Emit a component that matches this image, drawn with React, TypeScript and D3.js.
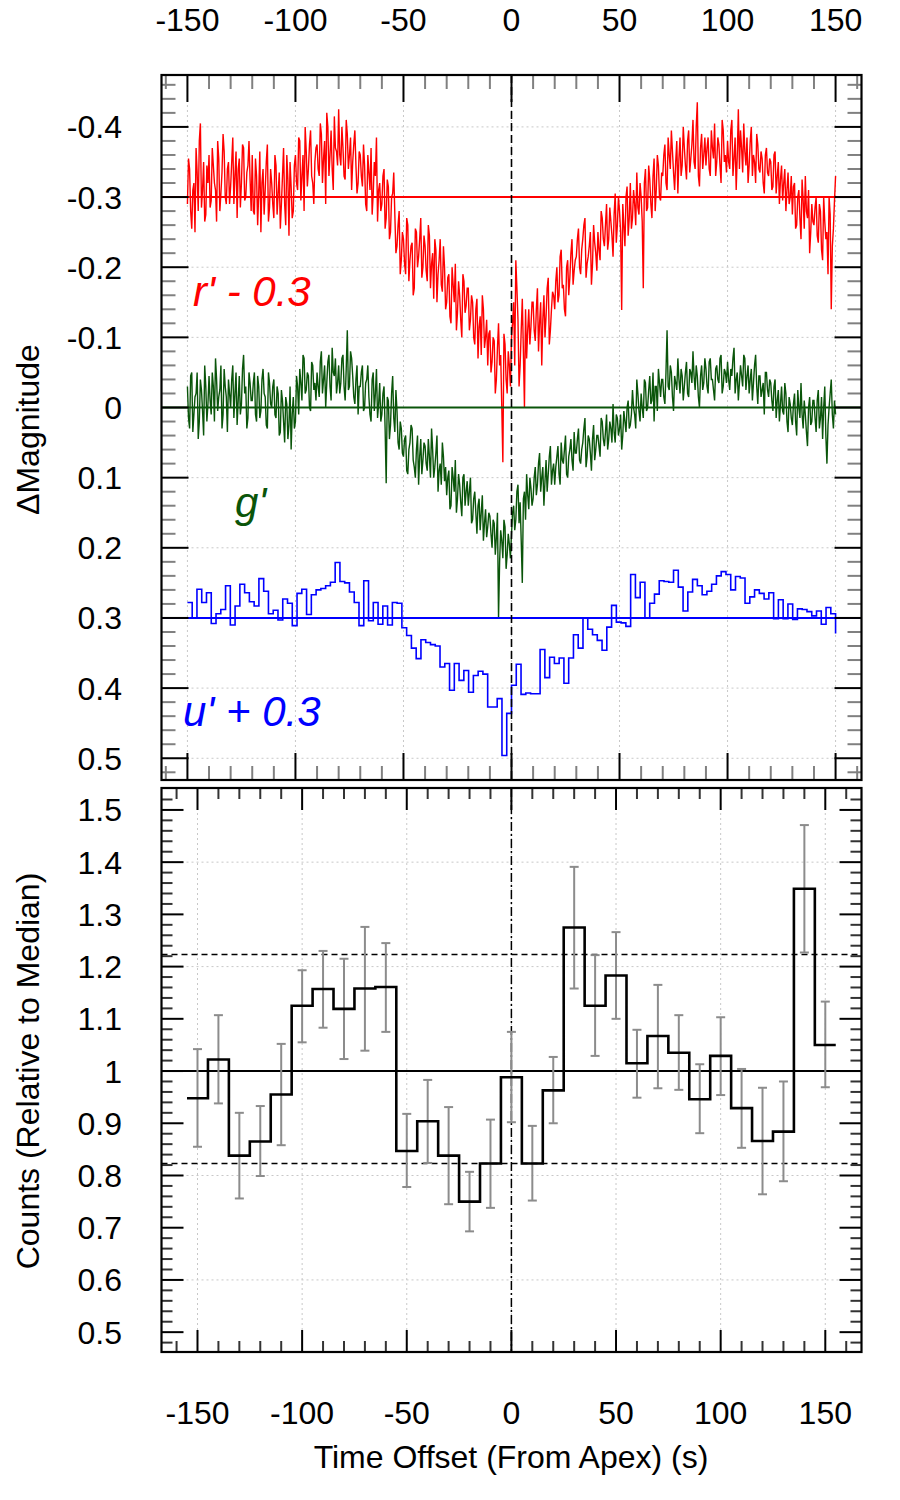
import React, { useRef, useEffect } from "react"
import * as d3 from "d3"

// Labelled ticks
const timeTicks = [-150, -100, -50, 0, 50, 100, 150]
const magTicks = [-0.4, -0.3, -0.2, -0.1, 0, 0.1, 0.2, 0.3, 0.4, 0.5]
const magLabels = ["-0.4", "-0.3", "-0.2", "-0.1", "0", "0.1", "0.2", "0.3", "0.4", "0.5"]
const countTicks = [0.5, 0.6, 0.7, 0.8, 0.9, 1.0, 1.1, 1.2, 1.3, 1.4, 1.5]
const countLabels = ["0.5", "0.6", "0.7", "0.8", "0.9", "1", "1.1", "1.2", "1.3", "1.4", "1.5"]

// r' light curve (plotted with -0.3 offset): samples on whole seconds from -150 s ...
const curveStart = -150
const rPrime = [
  0.010, -0.040, 0.045, -0.020, -0.070, 0.020, -0.105, -0.010, 0.035, -0.045,
  -0.060, 0.005, -0.045, -0.010, -0.080, 0.020, -0.035, -0.065, 0.010, -0.050,
  -0.015, -0.085, -0.030, 0.030, -0.055, -0.020, -0.070, 0.000, -0.045, -0.025,
  -0.060, 0.025, -0.030, -0.005, 0.050, -0.040, -0.010, -0.075, 0.015, -0.020,
  0.030, -0.045, -0.005, 0.045, -0.030, 0.010, -0.060, 0.055, -0.015, 0.020,
  -0.060, -0.010, -0.080, -0.030, 0.020, -0.065, -0.040, -0.095, -0.020, -0.050,
  -0.075, -0.030, -0.090, -0.055, 0.010, -0.100, -0.060, -0.040, -0.115, -0.065,
  -0.125, -0.045, -0.070, -0.025, -0.090, -0.060, -0.010, -0.075, -0.045, -0.020,
  -0.060, -0.015, -0.045, 0.020, -0.035, -0.070, -0.005, -0.030, 0.035, -0.020,
  0.010, -0.040, 0.030, -0.015, 0.050, -0.005, 0.025, 0.070, 0.020, 0.090,
  0.060, 0.110, 0.040, 0.090, 0.065, 0.130, 0.050, 0.085, 0.030, 0.100,
  0.070, 0.120, 0.055, 0.095, 0.145, 0.075, 0.110, 0.060, 0.135, 0.100,
  0.150, 0.110, 0.180, 0.125, 0.095, 0.165, 0.140, 0.200, 0.120, 0.155,
  0.130, 0.175, 0.150, 0.210, 0.145, 0.185, 0.225, 0.160, 0.200, 0.240,
  0.190, 0.235, 0.205, 0.260, 0.180, 0.225, 0.378, 0.210, 0.280, 0.240,
  0.200, 0.150, 0.090, 0.175, 0.240, 0.145, 0.300, 0.230, 0.160, 0.185,
  0.150, 0.205, 0.130, 0.180, 0.240, 0.140, 0.170, 0.115, 0.190, 0.135,
  0.160, 0.100, 0.140, 0.075, 0.125, 0.170, 0.090, 0.115, 0.060, 0.105,
  0.085, 0.045, 0.110, 0.060, 0.030, 0.095, 0.070, 0.125, 0.040, 0.080,
  0.050, 0.090, 0.030, 0.070, 0.010, 0.060, 0.035, 0.085, -0.005, 0.040,
  0.020, 0.161, 0.040, 0.000, 0.055, -0.020, 0.030, 0.010, -0.035, 0.025,
  0.000, 0.130, -0.040, 0.015, -0.025, 0.030, -0.055, -0.010, -0.045, 0.005,
  -0.030, -0.075, -0.010, -0.060, -0.095, -0.035, -0.050, -0.005, -0.085, -0.045,
  -0.070, -0.025, -0.095, -0.055, -0.110, -0.040, -0.135, -0.015, -0.090, -0.060,
  -0.045, -0.085, -0.030, -0.070, -0.105, -0.050, -0.075, -0.020, -0.095, -0.060,
  -0.080, -0.040, -0.110, -0.055, -0.010, -0.125, -0.095, -0.035, -0.065, -0.085,
  -0.045, -0.100, -0.060, -0.020, -0.075, -0.035, -0.055, -0.005, -0.070, -0.030,
  -0.050, -0.015, -0.065, -0.030, 0.010, -0.045, -0.020, 0.020, -0.035, 0.000,
  0.025, -0.020, 0.040, -0.010, 0.060, 0.005, -0.030, 0.030, 0.080, 0.010,
  0.040, 0.000, 0.065, 0.020, 0.090, 0.035, 0.050, 0.000, 0.160, 0.045, -0.030,
]
// ... and on the half seconds between them (-149.5 s to 149.5 s)
const rPrimeHalf = [
  -0.055, 0.020, -0.010, 0.050, -0.035, -0.080, 0.015, -0.050, 0.025, -0.020,
  0.015, -0.070, -0.020, 0.035, -0.055, -0.005, -0.090, 0.000, -0.040, 0.010,
  -0.050, 0.010, -0.065, -0.040, 0.015, -0.075, 0.005, -0.035, -0.080, 0.020,
  0.020, -0.055, 0.040, -0.065, -0.020, 0.025, -0.050, 0.035, -0.040, 0.010,
  -0.060, 0.025, -0.035, 0.010, -0.070, 0.040, -0.025, -0.050, 0.030, -0.045,
  -0.020, -0.085, 0.005, -0.060, -0.100, -0.015, -0.075, -0.030, 0.010, -0.070,
  -0.040, -0.105, -0.020, -0.080, -0.120, -0.030, -0.095, -0.010, -0.070, -0.045,
  -0.060, -0.100, -0.030, -0.110, -0.040, -0.085, -0.050, -0.095, -0.005, -0.065,
  -0.030, -0.075, 0.010, -0.060, -0.010, 0.025, -0.050, -0.085, -0.010, 0.020,
  -0.030, 0.045, -0.025, 0.060, 0.000, -0.035, 0.080, 0.040, 0.110, 0.050,
  0.095, 0.030, 0.120, 0.070, 0.140, 0.045, 0.100, 0.060, 0.115, 0.055,
  0.105, 0.040, 0.130, 0.080, 0.060, 0.150, 0.090, 0.125, 0.070, 0.160,
  0.115, 0.170, 0.100, 0.150, 0.190, 0.120, 0.175, 0.110, 0.165, 0.130,
  0.190, 0.140, 0.200, 0.160, 0.230, 0.170, 0.140, 0.215, 0.175, 0.195,
  0.250, 0.200, 0.280, 0.215, 0.240, 0.300, 0.195, 0.260, 0.220, 0.270,
  0.180, 0.240, 0.130, 0.270, 0.190, 0.220, 0.160, 0.190, 0.210, 0.150,
  0.190, 0.160, 0.220, 0.150, 0.175, 0.200, 0.130, 0.210, 0.160, 0.140,
  0.120, 0.150, 0.085, 0.130, 0.160, 0.100, 0.140, 0.080, 0.125, 0.090,
  0.060, 0.100, 0.075, 0.040, 0.115, 0.085, 0.050, 0.095, 0.065, 0.105,
  0.075, 0.020, 0.060, 0.040, 0.075, 0.015, 0.055, 0.025, 0.065, 0.000,
  0.050, 0.010, 0.070, -0.015, 0.030, 0.045, -0.010, 0.040, 0.015, -0.020,
  0.035, -0.020, 0.020, -0.045, 0.010, -0.030, 0.020, -0.060, 0.000, -0.035,
  -0.060, -0.020, -0.085, -0.040, -0.065, -0.010, -0.080, -0.055, -0.030, -0.100,
  -0.045, -0.080, -0.035, -0.075, -0.050, -0.100, -0.030, -0.070, -0.040, -0.085,
  -0.070, -0.040, -0.095, -0.055, -0.030, -0.085, -0.045, -0.110, -0.050, -0.035,
  -0.050, -0.095, -0.030, -0.085, -0.060, -0.040, -0.070, -0.105, -0.045, -0.020,
  -0.080, -0.030, -0.050, -0.090, -0.040, -0.065, -0.020, -0.060, -0.035, -0.055,
  -0.010, -0.060, -0.005, -0.050, -0.025, 0.005, -0.040, -0.010, 0.010, -0.030,
  -0.015, 0.045, 0.000, 0.030, -0.025, 0.045, 0.020, -0.010, 0.050, 0.035,
  0.015, 0.055, 0.010, 0.075, 0.000, 0.060, 0.110, 0.025, 0.070, 0.005,
]

// g' light curve (no offset): whole seconds from -150 s ...
const gPrime = [
  -0.030, 0.030, -0.050, 0.010, -0.020, 0.045, -0.040, 0.005, -0.060, 0.020,
  -0.045, 0.010, -0.030, -0.070, 0.005, -0.025, 0.030, -0.055, -0.015, -0.040,
  0.000, -0.060, -0.020, 0.025, -0.045, -0.005, -0.075, -0.030, 0.015, -0.035,
  -0.010, -0.050, 0.020, -0.030, 0.005, -0.055, -0.015, 0.030, -0.035, 0.000,
  -0.040, 0.015, -0.020, 0.035, -0.010, 0.050, -0.005, 0.025, 0.060, -0.015,
  0.020, -0.030, -0.055, -0.010, -0.070, -0.025, -0.045, 0.005, -0.060, -0.035,
  -0.050, -0.015, -0.080, -0.040, 0.000, -0.065, -0.030, -0.085, -0.045, -0.020,
  -0.060, -0.035, -0.075, -0.010, -0.110, -0.030, -0.070, -0.015, -0.040, 0.010,
  -0.030, -0.060, 0.000, -0.040, -0.015, 0.020, -0.050, -0.020, 0.015, -0.035,
  0.010, -0.030, 0.108, -0.010, 0.025, -0.045, 0.035, 0.005, 0.060, 0.030,
  0.070, 0.040, 0.095, 0.050, 0.030, 0.085, 0.060, 0.110, 0.045, 0.075,
  0.055, 0.090, 0.070, 0.030, 0.100, 0.065, 0.120, 0.080, 0.050, 0.105,
  0.125, 0.090, 0.140, 0.100, 0.075, 0.130, 0.110, 0.155, 0.095, 0.120,
  0.140, 0.100, 0.160, 0.120, 0.180, 0.130, 0.150, 0.190, 0.145, 0.170,
  0.155, 0.200, 0.165, 0.185, 0.300, 0.175, 0.215, 0.170, 0.210, 0.195,
  0.180, 0.140, 0.160, 0.110, 0.135, 0.250, 0.120, 0.095, 0.145, 0.115,
  0.130, 0.085, 0.110, 0.065, 0.100, 0.140, 0.075, 0.095, 0.055, 0.090,
  0.110, 0.070, 0.095, 0.050, 0.080, 0.040, 0.100, 0.060, 0.075, 0.035,
  0.065, 0.030, 0.080, 0.050, 0.015, 0.070, 0.045, 0.090, 0.025, 0.060,
  0.040, 0.070, 0.020, 0.055, 0.010, 0.045, 0.030, -0.005, 0.050, 0.015,
  0.030, 0.060, 0.005, 0.035, -0.010, 0.025, -0.025, 0.010, -0.040, 0.005,
  -0.020, 0.015, -0.035, 0.000, -0.045, -0.010, 0.020, -0.030, -0.055, -0.015,
  -0.040, -0.005, -0.110, -0.025, -0.050, 0.005, -0.035, -0.070, -0.020, -0.045,
  -0.030, -0.065, -0.015, -0.050, -0.080, -0.025, -0.045, 0.000, -0.060, -0.035,
  -0.055, -0.020, -0.070, -0.040, -0.010, -0.060, -0.035, -0.075, -0.030, -0.050,
  -0.065, -0.025, -0.045, -0.085, -0.040, -0.010, -0.060, -0.030, -0.070, -0.045,
  -0.020, -0.055, -0.035, -0.075, -0.005, -0.045, -0.025, 0.010, -0.050, -0.015,
  -0.035, 0.005, -0.040, -0.010, 0.020, -0.030, 0.010, -0.020, 0.035, -0.005,
  0.025, -0.020, 0.040, 0.000, -0.035, 0.030, 0.010, 0.055, -0.015, 0.020,
  -0.010, 0.035, -0.025, 0.015, 0.045, -0.030, 0.080, 0.000, -0.040, 0.030, 0.010,
]
// ... and half seconds
const gPrimeHalf = [
  0.015, -0.045, 0.035, -0.015, -0.050, 0.020, -0.025, 0.040, -0.030, -0.005,
  -0.010, -0.050, 0.020, -0.040, -0.015, -0.060, 0.010, -0.030, 0.035, -0.020,
  -0.040, 0.015, -0.050, -0.010, 0.010, -0.055, -0.020, 0.030, -0.050, -0.010,
  -0.035, 0.010, -0.045, 0.015, -0.040, -0.020, 0.025, -0.050, -0.005, -0.030,
  0.010, -0.030, 0.040, -0.025, 0.020, -0.015, 0.045, -0.030, 0.010, 0.030,
  -0.045, 0.010, -0.035, -0.075, -0.020, -0.050, 0.000, -0.065, -0.025, -0.010,
  -0.030, -0.065, -0.020, -0.060, -0.035, -0.075, -0.010, -0.050, -0.070, -0.035,
  -0.020, -0.070, -0.030, -0.055, -0.025, -0.080, -0.045, -0.005, -0.060, -0.030,
  -0.050, 0.005, -0.035, -0.060, 0.010, -0.040, 0.005, -0.055, -0.005, 0.020,
  -0.020, 0.030, -0.015, 0.045, -0.020, 0.015, -0.025, 0.050, 0.020, 0.065,
  0.045, 0.090, 0.060, 0.025, 0.075, 0.100, 0.040, 0.070, 0.095, 0.050,
  0.080, 0.045, 0.100, 0.060, 0.085, 0.040, 0.090, 0.110, 0.070, 0.085,
  0.100, 0.145, 0.085, 0.120, 0.150, 0.095, 0.135, 0.100, 0.140, 0.105,
  0.120, 0.165, 0.130, 0.150, 0.140, 0.175, 0.125, 0.165, 0.185, 0.150,
  0.180, 0.160, 0.210, 0.150, 0.220, 0.190, 0.160, 0.230, 0.180, 0.215,
  0.150, 0.175, 0.120, 0.165, 0.190, 0.130, 0.160, 0.125, 0.100, 0.140,
  0.100, 0.125, 0.080, 0.120, 0.085, 0.105, 0.120, 0.070, 0.110, 0.080,
  0.085, 0.055, 0.110, 0.075, 0.060, 0.095, 0.070, 0.045, 0.090, 0.065,
  0.045, 0.075, 0.060, 0.030, 0.085, 0.040, 0.065, 0.045, 0.075, 0.040,
  0.055, 0.015, 0.045, 0.035, 0.060, 0.020, 0.050, 0.035, 0.010, 0.040,
  0.010, 0.040, 0.020, 0.000, 0.030, 0.010, 0.000, 0.030, -0.020, 0.020,
  0.000, -0.040, 0.005, -0.025, -0.005, -0.050, -0.030, 0.005, -0.035, -0.040,
  -0.015, -0.050, -0.030, -0.060, -0.015, -0.045, -0.025, -0.040, -0.055, -0.010,
  -0.050, -0.020, -0.055, -0.035, -0.045, -0.060, -0.015, -0.045, -0.025, -0.070,
  -0.030, -0.065, -0.040, -0.025, -0.055, -0.040, -0.070, -0.020, -0.055, -0.035,
  -0.040, -0.055, -0.070, -0.020, -0.050, -0.035, -0.045, -0.075, -0.025, -0.060,
  -0.040, -0.010, -0.060, -0.030, -0.045, -0.015, -0.035, -0.050, -0.025, -0.040,
  -0.010, -0.030, 0.015, -0.025, -0.005, 0.005, -0.035, 0.020, -0.015, 0.015,
  -0.005, 0.020, -0.025, 0.015, 0.010, -0.010, 0.035, 0.000, 0.025, -0.010,
  0.015, -0.010, 0.030, -0.015, 0.000, 0.040, 0.025, -0.020, 0.010, -0.010,
]

// u' binned light curve (plotted with +0.3 offset), 136 bins from -150 s to 150 s
const uStart = -150
const uEnd = 150
const uPrime = [
  -0.022, 0.000, -0.041, -0.022, -0.036, 0.008, -0.006, -0.012, -0.046, 0.010,
  -0.017, -0.048, -0.036, -0.023, -0.017, -0.056, -0.038, -0.006, -0.011, 0.003,
  -0.027, -0.021, 0.011, -0.035, -0.041, -0.005, -0.033, -0.040, -0.042, -0.046,
  -0.051, -0.079, -0.052, -0.050, -0.037, -0.022, 0.011, -0.053, 0.004, -0.022,
  0.009, -0.017, 0.010, -0.022, -0.021, 0.014, 0.025, 0.043, 0.058, 0.031,
  0.035, 0.038, 0.040, 0.070, 0.065, 0.103, 0.065, 0.089, 0.075, 0.106,
  0.082, 0.076, 0.080, 0.127, 0.127, 0.115, 0.196, 0.136, 0.096, 0.066,
  0.109, 0.107, 0.108, 0.108, 0.045, 0.085, 0.056, 0.065, 0.057, 0.093,
  0.057, 0.024, 0.043, 0.000, 0.016, 0.024, 0.032, 0.046, 0.013, -0.018,
  0.006, 0.007, 0.012, -0.062, -0.029, -0.051, 0.000, -0.021, -0.034, -0.053,
  -0.052, -0.051, -0.068, -0.044, -0.010, -0.037, -0.055, -0.046, -0.033, -0.038,
  -0.048, -0.060, -0.066, -0.062, -0.040, -0.059, -0.057, -0.021, -0.030, -0.040,
  -0.035, -0.027, -0.036, 0.001, -0.026, 0.001, -0.020, 0.002, -0.013, -0.012,
  -0.009, -0.003, -0.010, 0.009, -0.015, -0.006,
]
const uFinal = 0.022

const rOffset = -0.3
const gOffset = 0
const uOffset = 0.3

// X-ray counts relative to the median, 10 s bins
const binCenters = [
  -150, -140, -130, -120, -110, -100, -90, -80, -70, -60, -50, -40, -30, -20, -10, 0,
  10, 20, 30, 40, 50, 60, 70, 80, 90, 100, 110, 120, 130, 140, 150,
]
const counts = [
  0.948, 1.022, 0.838, 0.865, 0.955, 1.125, 1.157, 1.119, 1.158, 1.161, 0.847, 0.904,
  0.838, 0.750, 0.823, 0.988, 0.823, 0.963, 1.275, 1.125, 1.183, 1.015, 1.067, 1.035,
  0.946, 1.029, 0.929, 0.866, 0.884, 1.349, 1.050,
]
const countsHi = [
  1.042, 1.107, 0.920, 0.933, 1.052, 1.193, 1.230, 1.215, 1.276, 1.245, 0.918, 0.983,
  0.931, 0.807, 0.907, 1.075, 0.895, 1.027, 1.391, 1.222, 1.266, 1.079, 1.165, 1.107,
  1.013, 1.103, 1.004, 0.968, 0.980, 1.471, 1.133,
]
const countsLo = [
  0.855, 0.938, 0.756, 0.799, 0.858, 1.055, 1.083, 1.023, 1.039, 1.075, 0.778, 0.824,
  0.745, 0.693, 0.738, 0.902, 0.752, 0.900, 1.158, 1.029, 1.100, 0.949, 0.967, 0.964,
  0.881, 0.954, 0.853, 0.764, 0.789, 1.227, 0.969,
]
const binWidth = 10
const medianLine = 1.0
const bandLines = [0.823, 1.223]

const FONT = "'Liberation Sans', Arial, Helvetica, sans-serif"
const RED = "#ff0000"
const GREEN = "#0a550a"
const BLUE = "#0000ff"

type Sel = d3.Selection<SVGGElement, unknown, null, undefined>

// frame with inward ticks on all four sides
function drawFrame(
  g: Sel,
  x: d3.ScaleLinear<number, number>,
  y: d3.ScaleLinear<number, number>,
  xMajor: number[], xMinor: number[], yMajor: number[], yMinor: number[],
  major: number, minor: number, minorColor: string,
) {
  const [x0, x1] = x.range()
  const [y1, y0] = y.range()
  const tick = (x1a: number, y1a: number, x2a: number, y2a: number, c: string) =>
    g.append("line").attr("x1", x1a).attr("y1", y1a).attr("x2", x2a).attr("y2", y2a)
      .attr("stroke", c).attr("stroke-width", 2)
  xMinor.forEach(v => { tick(x(v), y0, x(v), y0 + minor, minorColor); tick(x(v), y1, x(v), y1 - minor, minorColor) })
  yMinor.forEach(v => { tick(x0, y(v), x0 + minor, y(v), minorColor); tick(x1, y(v), x1 - minor, y(v), minorColor) })
  xMajor.forEach(v => { tick(x(v), y0, x(v), y0 + major, "#000"); tick(x(v), y1, x(v), y1 - major, "#000") })
  yMajor.forEach(v => { tick(x0, y(v), x0 + major, y(v), "#000"); tick(x1, y(v), x1 - major, y(v), "#000") })
  g.append("rect").attr("x", x0).attr("y", y0).attr("width", x1 - x0).attr("height", y1 - y0)
    .attr("fill", "none").attr("stroke", "#000").attr("stroke-width", 2.2)
}

function drawGrid(g: Sel, x: d3.ScaleLinear<number, number>, y: d3.ScaleLinear<number, number>, xs: number[], ys: number[]) {
  const [x0, x1] = x.range()
  const [y1, y0] = y.range()
  xs.forEach(v => g.append("line").attr("x1", x(v)).attr("x2", x(v)).attr("y1", y0).attr("y2", y1)
    .attr("stroke", "#c8c8c8").attr("stroke-width", 1).attr("stroke-dasharray", "2,3"))
  ys.forEach(v => g.append("line").attr("x1", x0).attr("x2", x1).attr("y1", y(v)).attr("y2", y(v))
    .attr("stroke", "#c8c8c8").attr("stroke-width", 1).attr("stroke-dasharray", "2,3"))
}

// merge whole-second and half-second samples into one time series
function mergeSamples(whole: number[], half: number[]): [number, number][] {
  const pts: [number, number][] = []
  whole.forEach((v, i) => {
    pts.push([curveStart + i, v])
    if (i < half.length) pts.push([curveStart + i + 0.5, half[i]])
  })
  return pts
}

const App: React.FC = () => {
  const svgRef = useRef<SVGSVGElement | null>(null)

  useEffect(() => {
    const svg = d3.select(svgRef.current)
    svg.selectAll("*").remove()
    const root = svg.append("g") as unknown as Sel

    const left = 161.5, right = 861.5
    const top1 = 75, bot1 = 780, top2 = 788, bot2 = 1352

    // SCALES
    const xTop = d3.scaleLinear().domain([-162, 162]).range([left, right])
    const yTop = d3.scaleLinear().domain([0.531, -0.474]).range([bot1, top1])
    const xBot = d3.scaleLinear().domain([-167.2, 167.3]).range([left, right])
    const yBot = d3.scaleLinear().domain([0.462, 1.542]).range([bot2, top2])

    const xMinor = d3.range(-16, 17).filter(i => i % 5 !== 0).map(i => i * 10)
    const magMinor = d3.range(-23, 27).filter(i => i % 5 !== 0).map(i => i * 0.02)
    const cntMinor = d3.range(24, 77).filter(i => i % 5 !== 0).map(i => i * 0.02)

    // TOP PANEL
    const top = root.append("g") as unknown as Sel
    drawGrid(top, xTop, yTop, timeTicks, magTicks)

    const refLine = (v: number, c: string) => top.append("line")
      .attr("x1", left).attr("x2", right).attr("y1", yTop(v)).attr("y2", yTop(v))
      .attr("stroke", c).attr("stroke-width", 2)

    const noisy = (pts: [number, number][], off: number, c: string) => top.append("path")
      .attr("d", d3.line().x(d => xTop(d[0])).y(d => yTop(d[1] + off))(pts))
      .attr("fill", "none").attr("stroke", c).attr("stroke-width", 1.4).attr("stroke-linejoin", "miter")

    noisy(mergeSamples(rPrime, rPrimeHalf), rOffset, RED)
    noisy(mergeSamples(gPrime, gPrimeHalf), gOffset, GREEN)

    const uWidth = (uEnd - uStart) / uPrime.length
    const uPts: [number, number][] = uPrime.map((v, i) => [uStart + i * uWidth, v + uOffset])
    uPts.push([uEnd, uPrime[uPrime.length - 1] + uOffset], [uEnd, uFinal + uOffset])
    top.append("path")
      .attr("d", d3.line().curve(d3.curveStepAfter).x(d => xTop(d[0])).y(d => yTop(d[1]))(uPts))
      .attr("fill", "none").attr("stroke", BLUE).attr("stroke-width", 1.6)

    refLine(rOffset, RED)
    refLine(gOffset, GREEN)
    refLine(uOffset, BLUE)

    top.append("line").attr("x1", xTop(0)).attr("x2", xTop(0)).attr("y1", top1).attr("y2", bot1)
      .attr("stroke", "#000").attr("stroke-width", 1.6).attr("stroke-dasharray", "8,4")

    drawFrame(top, xTop, yTop, timeTicks, xMinor, magTicks, magMinor, 27, 14, "#808080")

    const label = (t: string, x: number, y: number, c: string) => top.append("text")
      .attr("x", x).attr("y", y).attr("fill", c).attr("font-size", 42).attr("font-style", "italic")
      .attr("font-family", FONT).text(t)
    label("r' - 0.3", 193, 306, RED)
    label("g'", 235, 517, GREEN)
    label("u' + 0.3", 183, 726, BLUE)

    // top tick labels
    top.selectAll("text.xt").data(timeTicks).enter().append("text")
      .attr("x", d => xTop(d)).attr("y", 31).attr("text-anchor", "middle")
      .attr("font-size", 32).attr("font-family", FONT).text(d => String(d))
    top.selectAll("text.yt").data(magTicks).enter().append("text")
      .attr("x", 122).attr("y", d => yTop(d) + 11.5).attr("text-anchor", "end")
      .attr("font-size", 32).attr("font-family", FONT).text((_d, i) => magLabels[i])

    // BOTTOM PANEL
    const bot = root.append("g") as unknown as Sel
    drawGrid(bot, xBot, yBot, timeTicks, [0.6, 0.8, 1.2, 1.4])

    bot.append("line").attr("x1", left).attr("x2", right).attr("y1", yBot(medianLine)).attr("y2", yBot(medianLine))
      .attr("stroke", "#000").attr("stroke-width", 2)
    bandLines.forEach(v => bot.append("line").attr("x1", left).attr("x2", right)
      .attr("y1", yBot(v)).attr("y2", yBot(v))
      .attr("stroke", "#000").attr("stroke-width", 1.5).attr("stroke-dasharray", "6,4"))

    bot.append("line").attr("x1", xBot(0)).attr("x2", xBot(0)).attr("y1", top2).attr("y2", bot2)
      .attr("stroke", "#000").attr("stroke-width", 1.5).attr("stroke-dasharray", "9,3,2,3")

    // error bars
    binCenters.forEach((c, i) => {
      const cx = xBot(c)
      bot.append("line").attr("x1", cx).attr("x2", cx).attr("y1", yBot(countsLo[i])).attr("y2", yBot(countsHi[i]))
        .attr("stroke", "#8c8c8c").attr("stroke-width", 2)
      ;[countsLo[i], countsHi[i]].forEach(v => bot.append("line")
        .attr("x1", cx - 4.5).attr("x2", cx + 4.5).attr("y1", yBot(v)).attr("y2", yBot(v))
        .attr("stroke", "#8c8c8c").attr("stroke-width", 2))
    })

    const cPts: [number, number][] = counts.map((v, i) => [binCenters[i] - binWidth / 2, v])
    cPts.push([binCenters[binCenters.length - 1] + binWidth / 2, counts[counts.length - 1]])
    bot.append("path")
      .attr("d", d3.line().curve(d3.curveStepAfter).x(d => xBot(d[0])).y(d => yBot(d[1]))(cPts))
      .attr("fill", "none").attr("stroke", "#000").attr("stroke-width", 2.6)

    drawFrame(bot, xBot, yBot, timeTicks, xMinor, countTicks, cntMinor, 22, 11, "#333")

    bot.selectAll("text.xt").data(timeTicks).enter().append("text")
      .attr("x", d => xBot(d)).attr("y", 1424).attr("text-anchor", "middle")
      .attr("font-size", 32).attr("font-family", FONT).text(d => String(d))
    bot.selectAll("text.yt").data(countTicks).enter().append("text")
      .attr("x", 122).attr("y", d => yBot(d) + 11.5).attr("text-anchor", "end")
      .attr("font-size", 32).attr("font-family", FONT).text((_d, i) => countLabels[i])

    // AXIS TITLES
    root.append("text").attr("x", 511).attr("y", 1468).attr("text-anchor", "middle")
      .attr("font-size", 32).attr("font-family", FONT).text("Time Offset (From Apex) (s)")
    root.append("text").attr("transform", `translate(39,${(top1 + bot1) / 2 + 2}) rotate(-90)`)
      .attr("text-anchor", "middle").attr("font-size", 32).attr("font-family", FONT).text("ΔMagnitude")
    root.append("text").attr("transform", `translate(39,${(top2 + bot2) / 2 + 1}) rotate(-90)`)
      .attr("text-anchor", "middle").attr("font-size", 32).attr("font-family", FONT).text("Counts (Relative to Median)")
  }, [])

  return (
    <svg ref={svgRef} width={900} height={1500}
      style={{ position: "absolute", left: 0, top: 0, background: "#fff" }} />
  )
}

export default App
